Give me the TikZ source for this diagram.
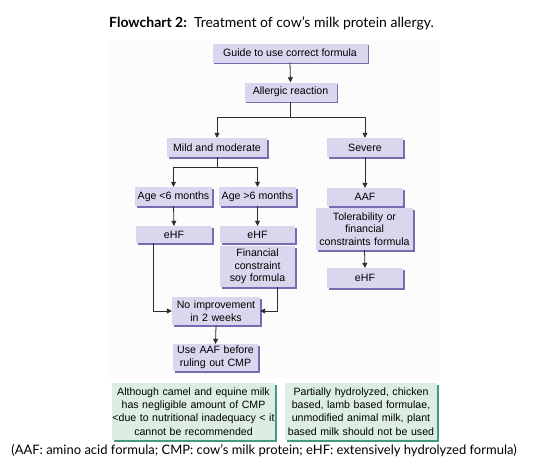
\documentclass[tikz,border=0pt]{standalone}
\usepackage{fontspec}
\setmainfont{Liberation Sans}
\newfontfamily\capfont{Lato}
\usetikzlibrary{arrows.meta,shadows,calc}
\definecolor{boxfill}{RGB}{216,215,238}
\definecolor{boxshade}{RGB}{118,108,178}
\definecolor{greenfill}{RGB}{220,238,228}
\definecolor{greenshade}{RGB}{72,150,128}
\definecolor{linecol}{RGB}{45,45,45}
\definecolor{panel}{RGB}{252,252,253}
\tikzset{
  pbox/.style={fill=boxfill, inner sep=0pt, align=center, font=\fontsize{10.6}{12.6}\selectfont,
    drop shadow={shadow xshift=1.6pt, shadow yshift=-1.6pt, fill=boxshade, opacity=1}},
  gbox/.style={fill=greenfill, inner sep=0pt, align=center, font=\fontsize{10.6}{13.4}\selectfont,
    drop shadow={shadow xshift=1.6pt, shadow yshift=-1.6pt, fill=greenshade, opacity=1}},
  conn/.style={draw=linecol, line width=0.8pt},
  arr/.style={conn, -{Triangle[length=5pt,width=5pt]}}
}
\begin{document}
\begin{tikzpicture}[x=1pt,y=-1pt]
\useasboundingbox (0,0) rectangle (543,463);
\fill[panel] (106,40) rectangle (440,378);
\node[font=\capfont\fontsize{14}{16}\selectfont] (title) at (271.5,23) {\textbf{Flowchart 2:}\ \ Treatment of cow’s milk protein allergy.};
\node[pbox, minimum width=155pt, minimum height=19pt] (guide) at (290,53) {Guide to use correct formula};
\node[pbox, minimum width=92pt, minimum height=19pt] (allergic) at (290.5,92) {Allergic reaction};
\node[pbox, minimum width=100pt, minimum height=19pt] (mild) at (217,147.5) {Mild and moderate};
\node[pbox, minimum width=76pt, minimum height=19pt] (severe) at (365,147.5) {Severe};
\node[pbox, minimum width=77pt, minimum height=19pt] (age1) at (173.5,196.5) {Age <6 months};
\node[pbox, minimum width=77pt, minimum height=19pt] (age2) at (257.5,196.5) {Age >6 months};
\node[pbox, minimum width=76pt, minimum height=17pt] (ehf1) at (174,234.5) {eHF};
\node[pbox, minimum width=75pt, minimum height=17pt] (ehf2) at (257.5,234.5) {eHF};
\node[pbox, minimum width=75pt, minimum height=41pt, text width=75pt] (soy) at (257.5,266.5) {Financial\\constraint\\soy formula};
\node[pbox, minimum width=76pt, minimum height=18pt] (aaf) at (365,197) {AAF};
\node[pbox, minimum width=97pt, minimum height=42pt, text width=97pt] (tol) at (364.5,229) {Tolerability or\\financial\\constraints formula};
\node[pbox, minimum width=76pt, minimum height=20pt] (ehf3) at (365,278) {eHF};
\node[pbox, minimum width=88pt, minimum height=28pt, text width=88pt] (noimp) at (216,311) {No improvement\\in 2 weeks};
\node[pbox, minimum width=85pt, minimum height=27pt, text width=85pt] (useaaf) at (215.5,357.5) {Use AAF before\\ruling out CMP};
\node[gbox, minimum width=163pt, minimum height=57pt, text width=163pt] (green1) at (193.5,411.5) {Although camel and equine milk\\has negligible amount of CMP\\<due to nutritional inadequacy < it\\cannot be recommended};
\node[gbox, minimum width=152pt, minimum height=57pt, text width=152pt] (green2) at (361,411.5) {Partially hydrolyzed, chicken\\based, lamb based formulae,\\unmodified animal milk, plant\\based milk should not be used};
\node[font=\capfont\fontsize{13}{15}\selectfont] (foot) at (264,451) {(AAF: amino acid formula; CMP: cow’s milk protein; eHF: extensively hydrolyzed formula)};
% connectors
\draw[arr] (guide.south) -- (allergic.north);
\coordinate (split1) at ($(allergic.south)+(0,16)$);
\draw[conn] (allergic.south) -- (split1);
\draw[arr] (split1) -| (mild.north);
\draw[arr] (split1) -| (severe.north);
\coordinate (split2) at ($(mild.south)+(0,10)$);
\draw[conn] (mild.south) -- (split2);
\draw[arr] (split2) -| (age1.north);
\draw[arr] (split2) -| (age2.north);
\draw[arr] (age1.south) -- (ehf1.north);
\draw[arr] (age2.south) -- (ehf2.north);
\draw[arr] ([xshift=-21pt]ehf1.south) |- (noimp.west);
\draw[arr] ([xshift=19.5pt]soy.south) |- (noimp.east);
\draw[arr] (noimp.south) -- (useaaf.north);
\draw[arr] (severe.south) -- (aaf.north);
\draw[arr] (tol.south) -- (ehf3.north);
\end{tikzpicture}
\end{document}
